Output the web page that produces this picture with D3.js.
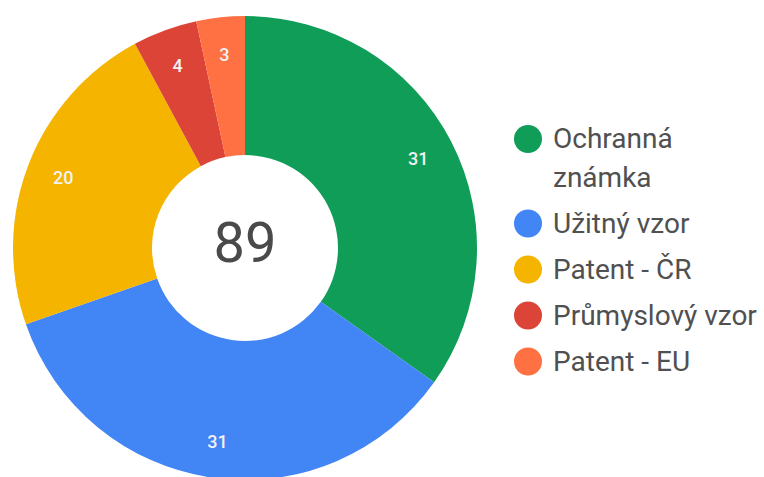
<!DOCTYPE html>
<html>
<head>
<meta charset="utf-8">
<script src="https://cdn.jsdelivr.net/npm/d3@7"></script>
<style>
  body { margin: 0; background: #fff; }
  svg { display: block; }
</style>
</head>
<body>
<script>
  // data
  const categories = ["Ochranná známka", "Užitný vzor", "Patent - ČR", "Průmyslový vzor", "Patent - EU"];
  const values = [31, 31, 20, 4, 3];
  const colors = ["#0f9d58", "#4285f4", "#f4b400", "#db4437", "#ff7043"];

  const width = 764, height = 477;
  const cx = 245, cy = 248;
  const outerR = 232, innerR = 93, labelR = 195;

  const svg = d3.select("body").append("svg")
    .attr("width", width)
    .attr("height", height);

  const g = svg.append("g")
    .attr("transform", "translate(" + cx + "," + cy + ")");

  const pie = d3.pie().sort(null).value(d => d.value);
  const data = categories.map((c, i) => ({ name: c, value: values[i], color: colors[i] }));
  const arcs = pie(data);

  const arc = d3.arc().innerRadius(innerR).outerRadius(outerR);
  const labelArc = d3.arc().innerRadius(labelR).outerRadius(labelR);

  g.selectAll("path.slice")
    .data(arcs)
    .enter().append("path")
    .attr("class", "slice")
    .attr("d", arc)
    .attr("fill", d => d.data.color);

  // slice labels
  g.selectAll("text.val")
    .data(arcs)
    .enter().append("text")
    .attr("class", "val")
    .attr("transform", d => "translate(" + labelArc.centroid(d) + ")")
    .attr("text-anchor", "middle")
    .attr("dy", "0.36em")
    .attr("font-family", "Roboto, Arial, sans-serif")
    .attr("font-size", 18)
    .attr("font-weight", 500)
    .attr("fill", "#f2f2f2")
    .text(d => d.data.value);

  // total in the middle
  g.append("text")
    .attr("text-anchor", "middle")
    .attr("y", 14)
    .attr("font-family", "Roboto, Arial, sans-serif")
    .attr("font-size", 56)
    .attr("fill", "#4a4a4a")
    .text(d3.sum(values));

  // legend
  const legX = 528, textX = 553, maxW = width - textX - 2;
  const lineH = 38.5, itemGap = 46;
  const legend = svg.append("g");
  let yPos = 138;

  data.forEach(d => {
    const item = legend.append("g");
    item.append("circle")
      .attr("cx", legX)
      .attr("cy", yPos + 1)
      .attr("r", 14)
      .attr("fill", d.color);

    const txt = item.append("text")
      .attr("x", textX)
      .attr("font-family", "Roboto, Arial, sans-serif")
      .attr("font-size", 28)
      .attr("fill", "#505050");

    // simple word wrap
    const words = d.name.split(" ");
    let lines = [];
    let line = [];
    let ts = txt.append("tspan").attr("x", textX).attr("y", yPos + 10);
    words.forEach(w => {
      line.push(w);
      ts.text(line.join(" "));
      if (ts.node().getComputedTextLength() > maxW && line.length > 1) {
        line.pop();
        ts.text(line.join(" "));
        lines.push(ts);
        line = [w];
        ts = txt.append("tspan").attr("x", textX)
          .attr("y", yPos + 10 + lineH * lines.length)
          .text(w);
      }
    });
    lines.push(ts);
    yPos += (lines.length - 1) * lineH + itemGap;
  });
</script>
</body>
</html>
